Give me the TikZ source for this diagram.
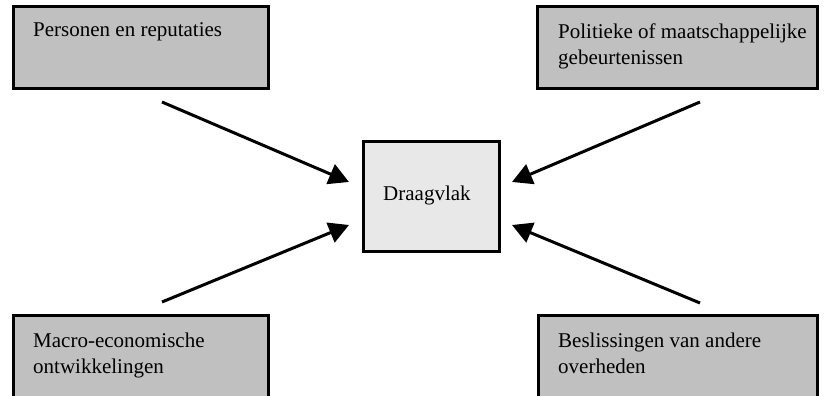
\documentclass[tikz,border=0pt]{standalone}
\usepackage{fontspec}
\setmainfont{Liberation Serif}
\usetikzlibrary{arrows.meta}
\definecolor{boxgray}{HTML}{C0C0C0}
\definecolor{coregray}{HTML}{E8E8E8}
\tikzset{
  factor/.style={draw=black, line width=3pt, fill=boxgray},
  core/.style={draw=black, line width=3pt, fill=coregray},
  boxtext/.style={anchor=base west, inner sep=0pt, align=left,
    font=\fontsize{21}{26}\selectfont},
  influence/.style={line width=3pt, -{Triangle[length=20pt,width=21pt]}}
}
\begin{document}
\begin{tikzpicture}[x=1pt,y=-1pt]
  \useasboundingbox (0,0) rectangle (830,396);
  \clip (0,0) rectangle (830,396);
  \fill[white] (0,0) rectangle (830,396);

  % four influencing factors
  \draw[factor] (13,7) rectangle (268,88);
  \draw[factor] (537,7) rectangle (817,88);
  \draw[factor] (13,315) rectangle (268,420);
  \draw[factor] (538,315) rectangle (817,420);

  \node[boxtext] (pers) at (33,37) {Personen en reputaties};
  \node[boxtext, anchor=north west] (pol) at (558,24)
    {Politieke of maatschappelijke\\gebeurtenissen};
  \node[boxtext, anchor=north west] (macro) at (33,333)
    {Macro-economische\\ontwikkelingen};
  \node[boxtext, anchor=north west] (besl) at (558,333)
    {Beslissingen van andere\\overheden};

  % central box
  \draw[core] (363,141) rectangle (499,251);
  \node[boxtext] (dv) at (383,200) {Draagvlak};

  % arrow end points
  \coordinate (tlS) at (162,102);
  \coordinate (trS) at (700,102);
  \coordinate (blS) at (162,302);
  \coordinate (brS) at (700,303);
  \coordinate (tlE) at (349,182);
  \coordinate (trE) at (512,182);
  \coordinate (blE) at (349,225);
  \coordinate (brE) at (512,225);

  \draw[influence] (tlS) -- (tlE);
  \draw[influence] (trS) -- (trE);
  \draw[influence] (blS) -- (blE);
  \draw[influence] (brS) -- (brE);
\end{tikzpicture}
\end{document}
